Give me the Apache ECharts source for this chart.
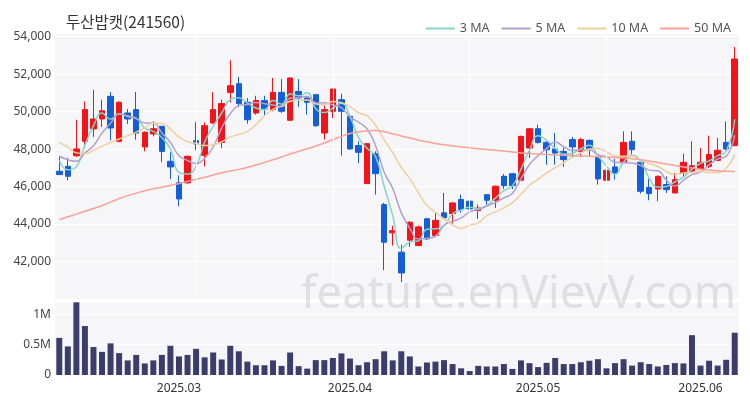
<!DOCTYPE html>
<html><head><meta charset="utf-8">
<script src="https://cdn.jsdelivr.net/npm/echarts@6/dist/echarts.min.js"></script>
<style>html,body{margin:0;padding:0;background:#fff}#c{width:750px;height:400px}</style>
</head><body><div id="c"></div>
<script>
const dates = [
'2025-02-11','2025-02-12','2025-02-13','2025-02-14','2025-02-17','2025-02-18','2025-02-19','2025-02-20','2025-02-21','2025-02-24','2025-02-25','2025-02-26','2025-02-27','2025-02-28',
'2025-03-04','2025-03-05','2025-03-06','2025-03-07','2025-03-10','2025-03-11','2025-03-12','2025-03-13','2025-03-14','2025-03-17','2025-03-18','2025-03-19','2025-03-20','2025-03-21','2025-03-24','2025-03-25','2025-03-26','2025-03-27','2025-03-28','2025-03-31',
'2025-04-01','2025-04-02','2025-04-03','2025-04-04','2025-04-07','2025-04-08','2025-04-09','2025-04-10','2025-04-11','2025-04-14','2025-04-15','2025-04-16','2025-04-17','2025-04-18','2025-04-21','2025-04-22','2025-04-23','2025-04-24','2025-04-25','2025-04-28','2025-04-29','2025-04-30',
'2025-05-02','2025-05-07','2025-05-08','2025-05-09','2025-05-12','2025-05-13','2025-05-14','2025-05-15','2025-05-16','2025-05-19','2025-05-20','2025-05-21','2025-05-22','2025-05-23','2025-05-26','2025-05-27','2025-05-28','2025-05-29','2025-05-30',
'2025-06-02','2025-06-04','2025-06-05','2025-06-09','2025-06-10'];

const opens  = [46820,47080,47650,48420,49080,49610,50820,48420,49930,50110,48120,48810,49220,47350,46200,46200,48450,47670,49400,48360,51030,51490,50500,49930,50600,50110,51030,49540,51080,50730,50910,48860,50020,50640,49750,48190,46160,47760,45040,43530,42500,43140,42850,44280,43390,44600,44560,45310,45220,44720,45570,45270,46550,46690,46340,48060,49090,48360,48010,47880,48510,47880,48470,47580,46340,47050,47300,48420,47300,45960,45870,46110,45660,46730,46820,46940,47080,47400,48360,48190];
const closes = [46640,46550,48010,50110,49610,50050,49130,50500,49610,48860,48900,49090,47880,47050,45340,47620,48280,49250,50110,50430,51390,50430,49570,50600,50140,51030,50020,51800,50730,50500,49250,50110,51210,50020,48010,47830,48290,46690,43030,43650,41390,44100,43850,43210,44200,44330,45130,44770,44810,44860,45270,46020,46050,46050,48680,49090,48360,47970,47790,47440,48120,48510,48010,46410,46870,46690,48360,47970,45750,45630,46550,45840,46370,47300,47120,47300,47710,47940,48010,52810];
const lows   = [46640,46340,47580,48060,48650,49180,48470,48360,49340,48510,47880,48680,47300,46410,44950,46160,47940,47080,49340,48060,50500,50250,49360,49840,49790,50020,49930,49540,50250,49840,49180,48510,49660,47650,47970,47260,46160,45570,41540,42850,40900,42780,42820,43140,43350,44280,44030,44600,44630,44280,45040,44860,45870,45870,46340,47530,48290,47170,47170,47050,47530,47580,47620,46110,45870,46370,47260,47710,45630,45270,45220,45660,45660,46510,46760,46870,46990,47350,47940,48150];
const highs  = [47620,47530,49570,50550,51170,50640,51050,50550,50140,51050,48950,49480,49220,47830,46600,47650,49450,49430,51050,50640,52740,51850,50730,50850,50850,51800,51740,51830,51740,50850,50910,50320,51210,50960,49790,48420,48330,47880,45130,43920,42900,44150,43920,44330,44600,45660,45160,45570,45220,45040,45570,46050,46670,46730,48720,49130,49310,48420,48860,48060,48650,48600,48510,47620,47230,47480,48950,48950,47350,46410,46590,46550,46730,47760,48420,48060,48720,48600,49480,53450];
const volumes = [610000,470000,1195000,805000,460000,380000,520000,360000,240000,330000,190000,240000,330000,480000,305000,330000,430000,290000,370000,255000,480000,390000,220000,160000,160000,240000,150000,370000,145000,105000,245000,245000,280000,355000,270000,160000,210000,260000,390000,240000,390000,305000,140000,205000,220000,245000,180000,110000,65000,150000,140000,140000,180000,100000,240000,195000,130000,200000,280000,180000,180000,210000,235000,260000,110000,195000,260000,155000,210000,180000,140000,165000,195000,190000,655000,155000,235000,155000,250000,695000];

// moving-average values at the start of the window (prior days not shown)
const ma3Head  = [47400,46900];
const ma5Head  = [47620,47440,47350,47800];
const ma10Head = [48360,48110,47800,47760,47940,48150,48360,48540,48720];
// 50-day average
const ma50 = [44240,44390,44530,44680,44830,44990,45170,45360,45520,45650,45780,45880,45970,46060,46170,46280,46390,46500,46620,46740,46830,46920,47030,47150,47290,47430,47580,47740,47880,48020,48170,48330,48500,48680,48830,48930,48970,48990,48930,48820,48700,48600,48480,48390,48300,48230,48170,48120,48070,48020,47980,47940,47900,47850,47800,47770,47740,47710,47690,47670,47650,47640,47620,47600,47580,47560,47530,47490,47440,47370,47290,47210,47130,47050,46990,46930,46880,46840,46820,46810];

const legendNames = ['3 MA','5 MA','10 MA','50 MA'];
const maColors = ['#86d3c9','#b2a0cb','#f0cf9e','#f8a198'];

function ma(n, head){
  const out=[];
  for(let i=0;i<closes.length;i++){
    if(i<n-1){ out.push(head[i]); continue; }
    let s=0; for(let j=i-n+1;j<=i;j++) s+=closes[j];
    out.push(Math.round(s/n));
  }
  return out;
}
const ma3=ma(3,ma3Head), ma5=ma(5,ma5Head), ma10=ma(10,ma10Head);
const candles = dates.map((d,i)=>[opens[i],closes[i],lows[i],highs[i]]);

function monthStart(idx){ return idx>0 && dates[idx].slice(5,7)!==dates[idx-1].slice(5,7); }

const chart = echarts.init(document.getElementById('c'), null, {renderer:'canvas'});
const FONT='Noto Sans';
chart.setOption({
  animation:false,
  textStyle:{fontFamily:FONT},
  title:{text:'두산밥캣(241560)',left:61,top:9,textStyle:{fontSize:15.5,fontWeight:'normal',color:'#333',fontFamily:'Noto Sans CJK KR'}},
  legend:{data:legendNames,right:14,top:17,icon:'rect',itemWidth:29,itemHeight:2,itemGap:12,
    textStyle:{fontSize:12.5,color:'#555',fontFamily:FONT}},
  grid:[
    {left:55,right:11,top:33,height:266,show:true,backgroundColor:'#f6f6f8',borderWidth:0},
    {left:55,right:11,top:302,height:73,show:true,backgroundColor:'#f6f6f8',borderWidth:0}
  ],
  xAxis:[
    {type:'category',gridIndex:0,data:dates,boundaryGap:true,axisLine:{show:false},axisTick:{show:false},axisLabel:{show:false},splitLine:{show:false}},
    {type:'category',gridIndex:1,data:dates,boundaryGap:true,axisLine:{show:false},axisTick:{show:false},
      axisLabel:{show:true,interval:(i)=>monthStart(i),formatter:(v)=>v.slice(0,7).replace('-','.'),color:'#333',fontSize:12,margin:8,fontFamily:FONT},
      splitLine:{show:false}}
  ],
  yAxis:[
    {type:'value',gridIndex:0,min:40000,max:54200,interval:2000,axisLine:{show:false},axisTick:{show:false},
      axisLabel:{color:'#444',fontSize:12,margin:4,showMinLabel:false,showMaxLabel:false,formatter:(v)=>v.toLocaleString('en-US'),fontFamily:FONT},
      splitLine:{show:true,lineStyle:{color:'#ffffff',width:1}}},
    {type:'value',gridIndex:1,min:0,max:1200000,interval:500000,axisLine:{show:false},axisTick:{show:false},
      axisLabel:{color:'#444',fontSize:12,margin:4,showMaxLabel:false,formatter:(v)=>v===0?'0':(v/1e6)+'M',fontFamily:FONT},
      splitLine:{show:true,lineStyle:{color:'#ffffff',width:1}}}
  ],
  series:[
    {type:'line',xAxisIndex:0,yAxisIndex:0,data:[],z:1,silent:true,
      markLine:{silent:true,symbol:['none','none'],label:{show:false},lineStyle:{color:'#ffffff',width:1,type:'solid'},
        data:[{xAxis:dates[16]},{xAxis:dates[32]},{xAxis:dates[48]},{xAxis:dates[64]}]}},
    {type:'candlestick',name:'price',xAxisIndex:0,yAxisIndex:0,data:candles,barWidth:'70%',z:3,
      itemStyle:{color:'#f2141b',color0:'#145ed8',borderColor:'#f2141b',borderColor0:'#145ed8',borderWidth:1}},
    {type:'line',name:'3 MA',data:ma3,xAxisIndex:0,yAxisIndex:0,showSymbol:false,smooth:true,z:4,lineStyle:{width:1.5,color:maColors[0]},itemStyle:{color:maColors[0]}},
    {type:'line',name:'5 MA',data:ma5,xAxisIndex:0,yAxisIndex:0,showSymbol:false,smooth:true,z:4,lineStyle:{width:1.5,color:maColors[1]},itemStyle:{color:maColors[1]}},
    {type:'line',name:'10 MA',data:ma10,xAxisIndex:0,yAxisIndex:0,showSymbol:false,smooth:true,z:4,lineStyle:{width:1.5,color:maColors[2]},itemStyle:{color:maColors[2]}},
    {type:'line',name:'50 MA',data:ma50,xAxisIndex:0,yAxisIndex:0,showSymbol:false,smooth:true,z:4,lineStyle:{width:1.5,color:maColors[3]},itemStyle:{color:maColors[3]}},
    {type:'bar',name:'volume',data:volumes,xAxisIndex:1,yAxisIndex:1,barWidth:'70%',itemStyle:{color:'#3d3d6b'}}
  ],
  graphic:[{type:'text',left:301,top:273,z:100,silent:true,
    style:{text:'feature.enVievV.com',fontSize:45.3,fontFamily:FONT,fill:'rgba(200,200,200,0.5)'}}]
});
</script></body></html>
